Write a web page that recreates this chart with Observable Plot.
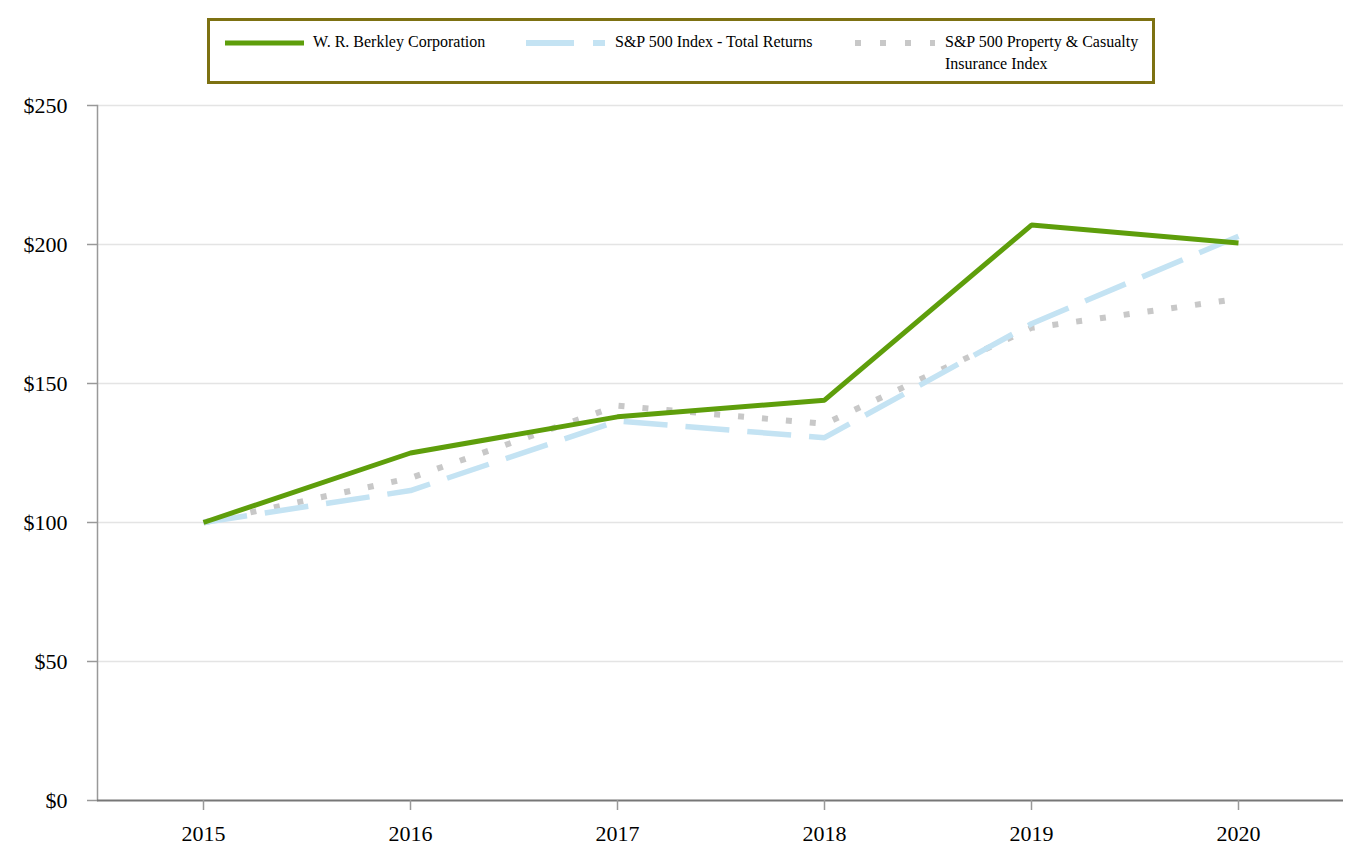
<!DOCTYPE html>
<html>
<head>
<meta charset="utf-8">
<script src="https://cdn.jsdelivr.net/npm/d3@7"></script>
<script src="https://cdn.jsdelivr.net/npm/@observablehq/plot@0.6"></script>
<style>
  html, body { margin: 0; padding: 0; background: #fff; }
  #wrap { position: relative; width: 1364px; height: 864px; font-family: "Liberation Serif", "Times New Roman", serif; }
  #legend { position: absolute; left: 207px; top: 18px; width: 942px; height: 60px; border: 3px solid #7d7112; background: #fff; }
  .item { position: absolute; font-size: 16px; color: #000; line-height: 22px; }
  .item svg { position: absolute; }
</style>
</head>
<body>
<div id="wrap">
  <div id="chart"></div>
  <div id="legend"></div>
</div>
<script>
const years = ["2015", "2016", "2017", "2018", "2019", "2020"];
const seriesNames = ["W. R. Berkley Corporation", "S&P 500 Index - Total Returns", "S&P 500 Property & Casualty Insurance Index"];
const berkley = [100, 125, 138, 144, 207, 200.5];
const sp500 = [100, 111.5, 136.5, 130.5, 171.5, 203];
const pc = [100, 116, 142, 135.5, 170, 180.5];
const yTicks = [0, 50, 100, 150, 200, 250];

const colors = ["#5e9e0b", "#c4e3f3", "#c8c8c8"];
const seriesValues = [berkley, sp500, pc];

const data = [];
seriesNames.forEach((name, i) => {
  years.forEach((yr, j) => data.push({series: name, year: yr, value: seriesValues[i][j]}));
});

const styleOf = [
  {stroke: colors[0], strokeWidth: 5},
  {stroke: colors[1], strokeWidth: 5.5, strokeDasharray: "44,18"},
  {stroke: colors[2], strokeWidth: 6, strokeDasharray: "6,18"}
];

const plot = Plot.plot({
  width: 1364,
  height: 864,
  marginTop: 105,
  marginBottom: 64,
  marginLeft: 97,
  marginRight: 21,
  style: {fontFamily: "Liberation Serif, Times New Roman, serif", fontSize: "22px", color: "#000", background: "#fff"},
  x: {type: "point", domain: years, padding: 0.5, label: null},
  y: {domain: [0, 250], label: null},
  marks: [
    Plot.gridY(yTicks.filter(d => d > 0), {stroke: "#e4e4e4", strokeOpacity: 1, strokeWidth: 1.5}),
    Plot.frame({anchor: "left", stroke: "#999", strokeWidth: 1.5}),
    Plot.ruleY([0], {stroke: "#777", strokeWidth: 2}),
    Plot.axisY({ticks: yTicks, tickFormat: d => "$" + d, tickSize: 10, tickPadding: 20, stroke: "#999", strokeWidth: 1.5, fill: "#000", fontSize: 22}),
    Plot.axisX({tickSize: 10, tickPadding: 15, stroke: "#999", strokeWidth: 1.5, fill: "#000", fontSize: 22}),
    ...seriesNames.map((name, i) =>
      Plot.line(data.filter(d => d.series === name), {x: "year", y: "value", ...styleOf[i], strokeLinejoin: "miter", strokeLinecap: "butt"})
    ).reverse()
  ]
});
document.getElementById("chart").appendChild(plot);

// Legend
const legend = document.getElementById("legend");
const legendItems = [
  {left: 15, text: seriesNames[0], swatch: `<line x1="0" y1="5" x2="79" y2="5" stroke="${colors[0]}" stroke-width="5"/>`, sw: 79, textLeft: 103},
  {left: 316, text: seriesNames[1], swatch: `<line x1="0" y1="5" x2="79" y2="5" stroke="${colors[1]}" stroke-width="6" stroke-dasharray="48,19"/>`, sw: 79, textLeft: 405},
  {left: 645, text: "S&P 500 Property &amp; Casualty<br>Insurance Index", swatch: `<line x1="0" y1="5" x2="80" y2="5" stroke="${colors[2]}" stroke-width="6" stroke-dasharray="6,19"/>`, sw: 80, textLeft: 735}
];
legendItems.forEach((it, i) => {
  const s = document.createElement("div");
  s.className = "item";
  s.style.left = it.left + "px";
  s.style.top = "17px";
  s.innerHTML = `<svg width="${it.sw}" height="10" style="left:0;top:0">${it.swatch}</svg>`;
  legend.appendChild(s);
  const t = document.createElement("div");
  t.className = "item";
  t.style.left = it.textLeft + "px";
  t.style.top = "10px";
  t.innerHTML = i === 2 ? it.text : it.text.replace("&", "&amp;");
  legend.appendChild(t);
});
</script>
</body>
</html>
